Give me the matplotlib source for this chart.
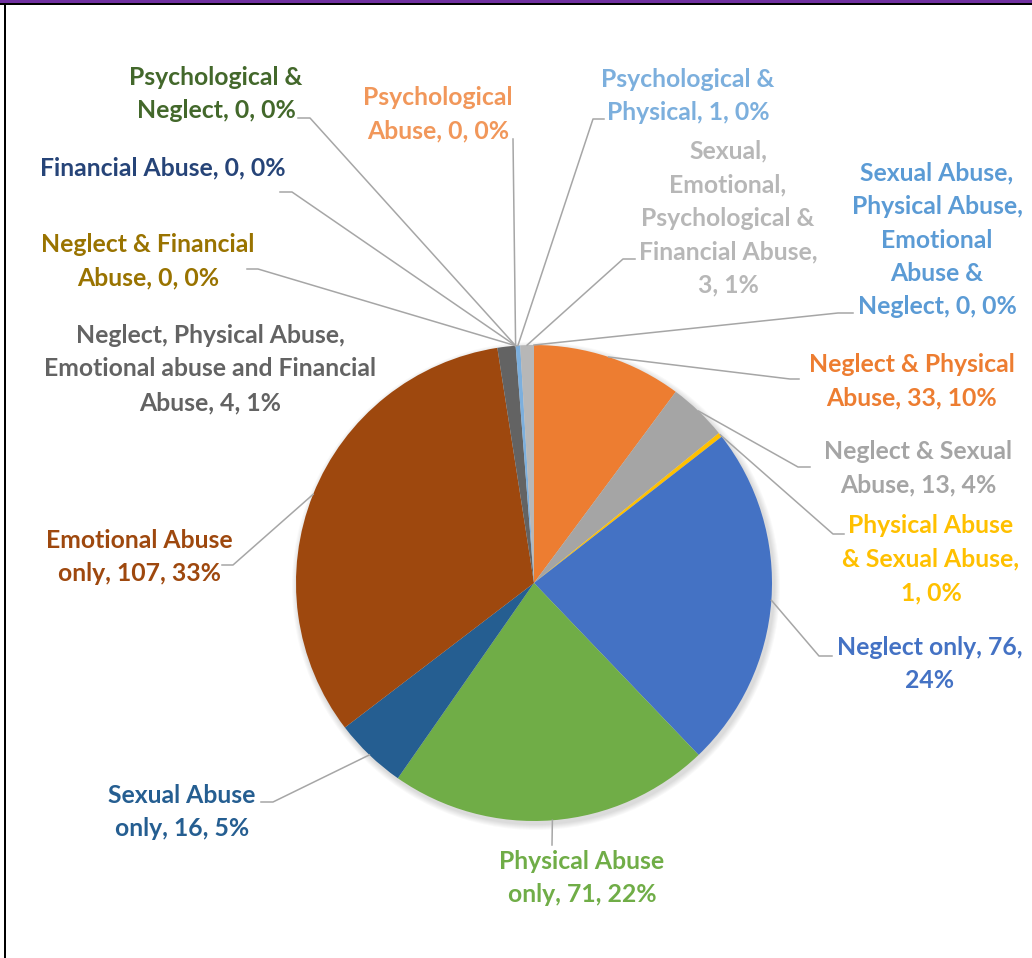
import matplotlib.pyplot as plt
from matplotlib.patches import Rectangle, Circle
import numpy as np

# Slices in clockwise order starting at 12 o'clock
categories = ['Neglect & Physical Abuse', 'Neglect & Sexual Abuse', 'Physical Abuse & Sexual Abuse',
              'Neglect only', 'Physical Abuse only', 'Sexual Abuse only', 'Emotional Abuse only',
              'Neglect, Physical Abuse, Emotional abuse and Financial Abuse', 'Neglect & Financial Abuse',
              'Financial Abuse', 'Psychological & Neglect', 'Psychological Abuse', 'Psychological & Physical',
              'Sexual, Emotional, Psychological & Financial Abuse',
              'Sexual Abuse, Physical Abuse, Emotional Abuse & Neglect']
values = [33, 13, 1, 76, 71, 16, 107, 4, 0, 0, 0, 0, 1, 3, 0]
percents = ['10%', '4%', '0%', '24%', '22%', '5%', '33%', '1%', '0%', '0%', '0%', '0%', '0%', '1%', '0%']

# label text as shown (wrapped like the original)
label_text = [
    'Neglect & Physical\nAbuse, 33, 10%',
    'Neglect & Sexual\nAbuse, 13, 4%',
    'Physical Abuse\n& Sexual Abuse,\n1, 0%',
    'Neglect only, 76,\n24%',
    'Physical Abuse\nonly, 71, 22%',
    'Sexual Abuse\nonly, 16, 5%',
    'Emotional Abuse\nonly, 107, 33%',
    'Neglect, Physical Abuse,\nEmotional abuse and Financial\nAbuse, 4, 1%',
    'Neglect & Financial\nAbuse, 0, 0%',
    'Financial Abuse, 0, 0%',
    'Psychological &\nNeglect, 0, 0%',
    'Psychological\nAbuse, 0, 0%',
    'Psychological &\nPhysical, 1, 0%',
    'Sexual,\nEmotional,\nPsychological &\nFinancial Abuse,\n3, 1%',
    'Sexual Abuse,\nPhysical Abuse,\nEmotional\nAbuse &\nNeglect, 0, 0%',
]

colors = ['#ED7D31', '#A5A5A5', '#FFC000', '#4472C4', '#70AD47', '#255E91', '#9E480E',
          '#636363', '#997300', '#264478', '#43682B', '#F1975A', '#7CAFDD', '#B7B7B7', '#5B9BD5']

W, H = 1032, 958
cx, cy, r = 534, 583, 238

# label centre positions (pixels from top-left)
label_pos = [(912, 381), (918, 468), (931, 559), (930, 664), (582, 878), (182, 812), (139, 557),
             (210, 369), (148, 261), (163, 168), (216, 94), (438, 114), (688, 96), (728, 218), (937, 240)]
# leader line: (end at label, elbow) or None
leaders = [((799, 379), (790, 379)), ((810, 467), (798, 467)), ((844, 534), (833, 534)),
           ((832, 656), (819, 656)), ((552, 845), None), ((261, 802), (273, 802)),
           ((222, 565), (233, 565)), None, ((247, 269), (258, 269)), ((280, 192), (292, 192)),
           ((298, 118), (310, 118)), ((513, 139), None), ((604, 119), (593, 119)),
           ((635, 259), (623, 259)), ((853, 313), (838, 313))]

fig = plt.figure(figsize=(W / 100, H / 100), dpi=100)
ax = fig.add_axes([0, 0, 1, 1])

# soft shadow
for k in range(6, 0, -1):
    ax.add_patch(Circle((cx + 2, cy + 3), r + k, color='black', alpha=0.025, lw=0, zorder=0))

# y axis is flipped below, so counterclock=True draws clockwise on screen
wedges, _ = ax.pie(values, colors=colors, startangle=-90, counterclock=True,
                   radius=r, center=(cx, cy), wedgeprops=dict(linewidth=0))

for i, w in enumerate(wedges):
    ang = np.deg2rad((w.theta1 + w.theta2) / 2)
    px, py = cx + r * np.cos(ang), cy + r * np.sin(ang)
    if leaders[i] is not None:
        end, elbow = leaders[i]
        xs, ys = [px], [py]
        if elbow is not None:
            xs.append(elbow[0]); ys.append(elbow[1])
        xs.append(end[0]); ys.append(end[1])
        ax.plot(xs, ys, color='#A6A6A6', lw=1.1, zorder=3)
    ax.text(label_pos[i][0], label_pos[i][1], label_text[i], ha='center', va='center',
            color=colors[i], fontsize=17.8, fontweight='bold', family='Lato', linespacing=1.55)

# frame: purple top band, black lines
ax.add_patch(Rectangle((0, 0), W, 3, color='#7030A0', lw=0, zorder=5))
ax.add_patch(Rectangle((0, 3), W, 2, color='black', lw=0, zorder=5))
ax.add_patch(Rectangle((4, 3), 2, H, color='black', lw=0, zorder=5))

ax.set_xlim(0, W)
ax.set_ylim(H, 0)
ax.set_aspect('equal')
ax.axis('off')

fig.savefig('out.png', dpi=100)
